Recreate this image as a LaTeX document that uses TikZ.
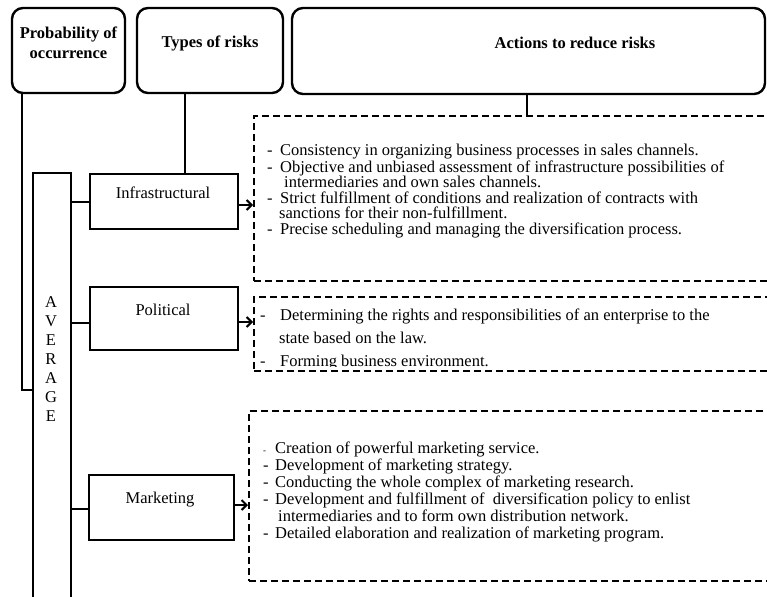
\documentclass[tikz,border=0pt]{standalone}
\usepackage{fontspec}
\setmainfont{Liberation Serif}
\usetikzlibrary{arrows.meta}
\begin{document}
\begin{tikzpicture}[x=1pt,y=-1pt,
  hdr/.style={draw, line width=2.4pt, rounded corners=11pt, inner sep=0pt},
  rbox/.style={draw, line width=2.4pt, inner sep=0pt},
  dbox/.style={draw, line width=2.4pt, dash pattern=on 7pt off 4pt, inner sep=0pt},
  conn/.style={line width=2.4pt},
  arr/.style={line width=2pt, -{Straight Barb[length=5pt,width=10pt,line width=2pt]}},
  htxt/.style={font=\fontsize{16.5}{20}\selectfont\bfseries, align=center, inner sep=0pt},
  btxt/.style={font=\fontsize{16.5}{18}\selectfont, inner sep=0pt},
  ltxt/.style={font=\fontsize{16.5}{18}\selectfont, inner sep=0pt, anchor=base west}]
\useasboundingbox (0,0) rectangle (767,596);
\clip (0,0) rectangle (767,596);
\fill[white] (0,0) rectangle (767,596);

% header boxes
\draw[hdr] (12,8) rectangle (125,93);
\coordinate (pb) at (22,93);
\node[htxt] (ptxt) at (68.5,43) {Probability of\\occurrence};
\draw[hdr] (137,8) rectangle (283,93);
\coordinate (tb) at (185,93);
\node[htxt] (ttxt) at (210,43) {Types of risks};
\draw[hdr] (292,8) rectangle (765,94);
\coordinate (ab) at (527,94);
\node[htxt] (atxt) at (575,43) {Actions to reduce risks};

% AVERAGE column
\draw[rbox] (33,620) -- (33,173) -- (71,173) -- (71,620);
\coordinate (avl) at (33,390);
\foreach \l [count=\i] in {A,V,E,R,A,G,E}
  \node[btxt] (av\i) at (51,283+19*\i) {\l};

% risk boxes
\node[rbox, minimum width=148pt, minimum height=55pt, anchor=north west] (infra) at (89,173) {};
\node[btxt] (infrat) at (163,193) {Infrastructural};
\node[rbox, minimum width=148pt, minimum height=63pt, anchor=north west] (pol) at (89,286) {};
\node[btxt] (polt) at (163,310) {Political};
\node[rbox, minimum width=145pt, minimum height=65pt, anchor=north west] (mkt) at (88,474) {};
\node[btxt] (mktt) at (160,500) {Marketing};

% texts in dashed boxes
\node[ltxt] (i1) at (267,156) {\makebox[13pt][l]{-}Consistency in organizing business processes in sales channels.};
\node[ltxt] (i2) at (267,172) {\makebox[13pt][l]{-}Objective and unbiased assessment of infrastructure possibilities of};
\node[ltxt] (i3) at (284,187.5) {intermediaries and own sales channels.};
\node[ltxt] (i4) at (267,203) {\makebox[13pt][l]{-}Strict fulfillment of conditions and realization of contracts with};
\node[ltxt] (i5) at (279,218.5) {sanctions for their non-fulfillment.};
\node[ltxt] (i6) at (267,234) {\makebox[13pt][l]{-}Precise scheduling and managing the diversification process.};

\begin{scope}
\clip (250,290) rectangle (767,366.5);
\node[ltxt] (p1) at (260,320) {\makebox[20pt][l]{-}Determining the rights and responsibilities of an enterprise to the};
\node[ltxt] (p2) at (279,343) {state based on the law.};
\node[ltxt] (p3) at (260,366) {\makebox[20pt][l]{-}Forming business environment.};
\end{scope}

\node[ltxt] (m1) at (263,453) {\makebox[12pt][l]{\small -}Creation of powerful marketing service.};
\node[ltxt] (m2) at (263,470) {\makebox[12pt][l]{-}Development of marketing strategy.};
\node[ltxt] (m3) at (263,487) {\makebox[12pt][l]{-}Conducting the whole complex of marketing research.};
\node[ltxt] (m4) at (263,504) {\makebox[12pt][l]{-}Development and fulfillment of\ \ diversification policy to enlist};
\node[ltxt] (m5) at (278,521) {intermediaries and to form own distribution network.};
\node[ltxt] (m6) at (263,538) {\makebox[12pt][l]{-}Detailed elaboration and realization of marketing program.};

% dashed boxes
\node[dbox, minimum width=530pt, minimum height=165pt, anchor=north west] (d1) at (253,115) {};
\node[dbox, minimum width=530pt, minimum height=74pt, anchor=north west] (d2) at (253,296) {};
\node[dbox, minimum width=535pt, minimum height=170pt, anchor=north west] (d3) at (248,410) {};

% connectors
\draw[conn] (pb) -- (22,390) -- (avl);
\draw[conn] (tb) -- (infra.north -| tb);
\draw[conn] (ab) -- (d1.north -| ab);
\draw[conn] (71,202) -- (infra.west |- 0,202);
\draw[conn] (71,323) -- (pol.west |- 0,323);
\draw[conn] (71,509) -- (mkt.west |- 0,509);
\draw[arr] (infra.east |- 0,205) -- (d1.west |- 0,205);
\draw[arr] (pol.east |- 0,322) -- (d2.west |- 0,322);
\draw[arr] (mkt.east |- 0,505) -- (d3.west |- 0,505);
\end{tikzpicture}
\end{document}
